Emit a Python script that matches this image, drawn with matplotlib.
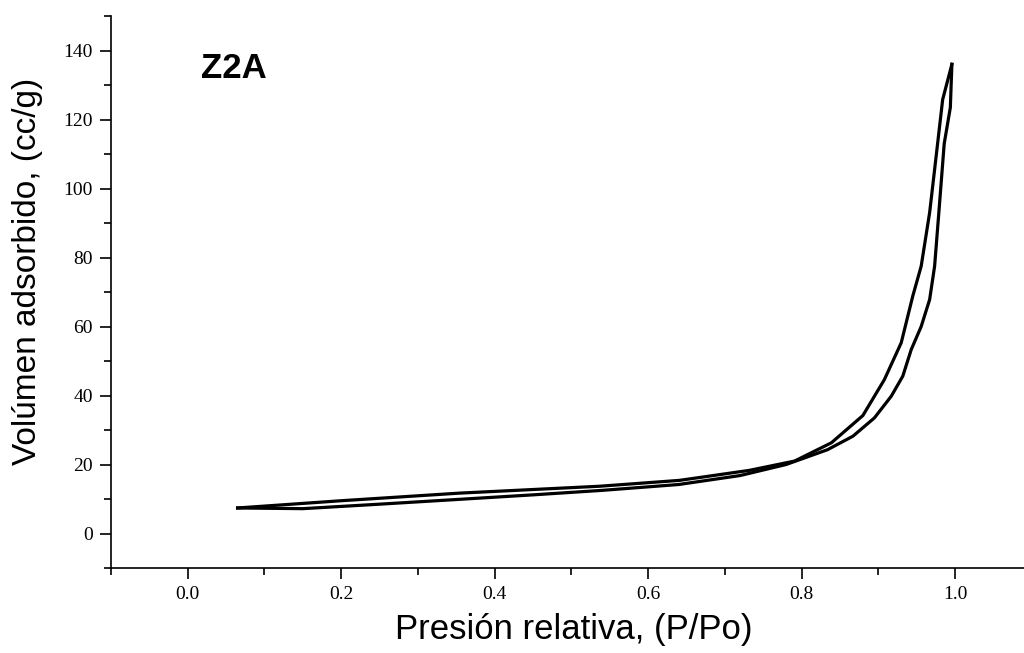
import matplotlib
matplotlib.use("Agg")
import matplotlib.pyplot as plt
from matplotlib.ticker import MultipleLocator

# Nitrogen isotherm of sample Z2A
p_ads = [0.065, 0.15, 0.25, 0.354, 0.45, 0.54, 0.64, 0.72, 0.78, 0.834, 0.867,
         0.895, 0.917, 0.932, 0.943, 0.956, 0.967, 0.9735, 0.979, 0.986, 0.994, 0.996]
v_ads = [7.4, 7.2, 8.5, 9.9, 11.2, 12.5, 14.2, 16.8, 20.0, 24.3, 28.2,
         33.5, 39.8, 45.6, 53.3, 60.0, 67.8, 77.5, 93.0, 113.0, 123.5, 136.0]

p_des = [0.996, 0.984, 0.978, 0.967, 0.956, 0.945, 0.930, 0.908, 0.880, 0.839,
         0.791, 0.732, 0.641, 0.537, 0.354, 0.20, 0.065]
v_des = [136.0, 125.8, 114.2, 93.0, 77.5, 68.8, 55.3, 44.6, 34.2, 26.3,
         21.0, 18.3, 15.4, 13.7, 11.7, 9.5, 7.4]

x_ticks = [0.0, 0.2, 0.4, 0.6, 0.8, 1.0]
y_ticks = [0, 20, 40, 60, 80, 100, 120, 140]

fig = plt.figure(figsize=(10.24, 6.53), dpi=100)
ax = fig.add_axes([111 / 1024, 85 / 653, 1 - 111 / 1024, (568 - 16) / 653])

ax.plot(p_ads, v_ads, color="black", lw=2.3, solid_joinstyle="round")
ax.plot(p_des, v_des, color="black", lw=2.3, solid_joinstyle="round")

ax.set_xlim(-0.1, 1.09)
ax.set_ylim(-10, 150)
ax.set_xticks(x_ticks)
ax.set_yticks(y_ticks)
ax.set_xticklabels([f"{t:.1f}" for t in x_ticks])
ax.set_yticklabels([str(t) for t in y_ticks])
ax.xaxis.set_minor_locator(MultipleLocator(0.1))
ax.yaxis.set_minor_locator(MultipleLocator(10))

for side in ("top", "right"):
    ax.spines[side].set_visible(False)
for side in ("left", "bottom"):
    ax.spines[side].set_linewidth(1.2)

ax.tick_params(which="major", direction="out", length=8, width=1.2, pad=5,
               labelsize=14, labelfontfamily="Liberation Serif")
ax.tick_params(which="minor", direction="out", length=5, width=1.2)

ax.set_xlabel("Presión relativa, (P/Po)", fontfamily="Liberation Sans",
              fontsize=25, va="center", ha="center")
ax.xaxis.set_label_coords(0.5066, -0.112)
ax.set_ylabel("Volúmen adsorbido, (cc/g)", fontfamily="Liberation Sans",
              fontsize=24, va="center", ha="center")
ax.yaxis.set_label_coords(-0.092, 0.538)

ax.text(0.060, 134.8, "Z2A", fontfamily="Liberation Sans", fontweight="bold",
        fontsize=25, ha="center", va="center")

fig.savefig("out.png", dpi=100)
